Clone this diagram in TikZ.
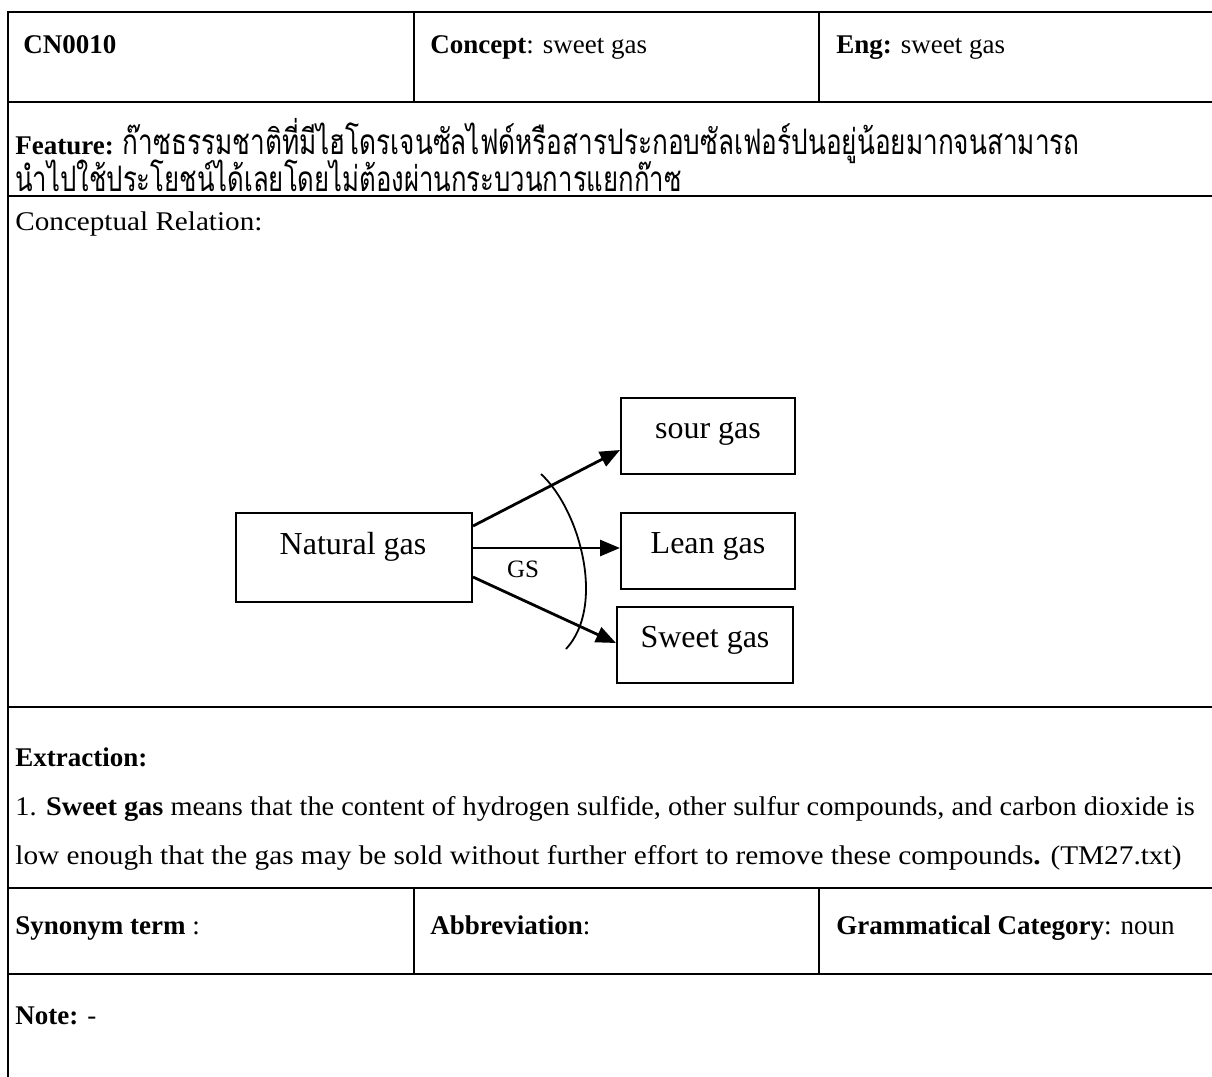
\documentclass[tikz,border=0pt]{standalone}
\usepackage{fontspec}
\setmainfont{Liberation Serif}
\newfontfamily\thaifont[Script=Thai]{Loma}
\usetikzlibrary{arrows.meta,calc}

\tikzset{
  rule/.style={line width=1.3pt},
  colrule/.style={line width=0.8pt},
  cell/.style={anchor=base west, inner sep=0pt, font=\fontsize{13.5}{16}\selectfont},
  termbox/.style={draw, line width=1pt, inner sep=0pt},
  termtext/.style={anchor=base, inner sep=0pt, font=\fontsize{16}{19}\selectfont},
  relarrow/.style={line width=1.4pt, -{Triangle[length=10pt,width=8pt]}},
}

\begin{document}
\begin{tikzpicture}[x=0.5pt,y=-0.5pt]
  \useasboundingbox (0,0) rectangle (1212,1077);
  \begin{scope}
    \clip (0,0) rectangle (1212,1077);
    % table frame and rules
    \draw[rule] (8,1100) -- (8,12) -- (1230,12);
    \draw[rule] (8,102) -- (1230,102);
    \draw[rule] (8,196) -- (1230,196);
    \draw[rule] (8,707) -- (1230,707);
    \draw[rule] (8,888) -- (1230,888);
    \draw[rule] (8,974) -- (1230,974);
    \draw[colrule] (414,12) -- (414,102);
    \draw[colrule] (819,12) -- (819,102);
    \draw[colrule] (414,888) -- (414,974);
    \draw[colrule] (819,888) -- (819,974);
  \end{scope}

  % header row
  \node[cell] (id) at (23,53) {\textbf{CN0010}};
  \node[cell] (concept) at (430,53) {\textbf{Concept}: sweet gas};
  \node[cell] (eng) at (836,53) {\textbf{Eng:} sweet gas};

  % feature (Thai definition)
  \node[cell] (feat1) at (15,154) {\textbf{Feature:} \scalebox{0.97}[1.3]{\thaifont ก๊าซธรรมชาติที่มีไฮโดรเจนซัลไฟด์หรือสารประกอบซัลเฟอร์ปนอยู่น้อยมากจนสามารถ}};
  \node[cell] (feat2) at (15,191) {\scalebox{0.953}[1.3]{\thaifont นำไปใช้ประโยชน์ได้เลยโดยไม่ต้องผ่านกระบวนการแยกก๊าซ}};

  % conceptual relation
  \node[cell] (crel) at (15,230) {\scalebox{1.08}[1]{Conceptual Relation:}};

  \node[termbox, minimum width=118pt, minimum height=44.5pt] (natural) at (354,557.5) {};
  \node[termbox, minimum width=87pt, minimum height=38pt] (sour) at (708,436) {};
  \node[termbox, minimum width=87pt, minimum height=38pt] (lean) at (708,551) {};
  \node[termbox, minimum width=88pt, minimum height=38pt] (sweet) at (705,645) {};

  \node[termtext] (naturalt) at (353,554) {Natural gas};
  \node[termtext] (sourt) at (708,438) {sour gas};
  \node[termtext] (leant) at (708,553) {Lean gas};
  \node[termtext] (sweett) at (705,647) {Sweet gas};

  \draw[relarrow] ([yshift=15.75pt]natural.east) -- ([yshift=-7pt]sour.west);
  \draw[relarrow] ([yshift=4.75pt]natural.east) -- ([yshift=1.5pt]lean.west);
  \draw[relarrow] ([yshift=-9.75pt]natural.east) -- ([yshift=1pt]sweet.west);

  \coordinate (arcTop) at (541,474);
  \coordinate (arcBot) at (566,649);
  \draw[line width=0.9pt] (arcTop) .. controls (580,510) and (606,606) .. (arcBot);
  \node[anchor=base, inner sep=0pt, font=\fontsize{12.5}{15}\selectfont] (gs) at (523,577) {GS};

  % extraction
  \node[cell] (extr) at (15,766) {\textbf{Extraction:}};
  \node[cell] (ex1) at (15,815) {\scalebox{1.05}[1]{1. \textbf{Sweet gas} means that the content of hydrogen sulfide, other sulfur compounds, and carbon dioxide is}};
  \node[cell] (ex2) at (15,864) {\scalebox{1.085}[1]{low enough that the gas may be sold without further effort to remove these compounds\textbf{.} (TM27.txt)}};

  % synonym row
  \node[cell] (syn) at (15,934) {\textbf{Synonym term} :};
  \node[cell] (abbr) at (430,934) {\textbf{Abbreviation}:};
  \node[cell] (gram) at (836,934) {\textbf{Grammatical Category}: noun};

  % note
  \node[cell] (note) at (15,1024) {\textbf{Note:} -};
\end{tikzpicture}
\end{document}
